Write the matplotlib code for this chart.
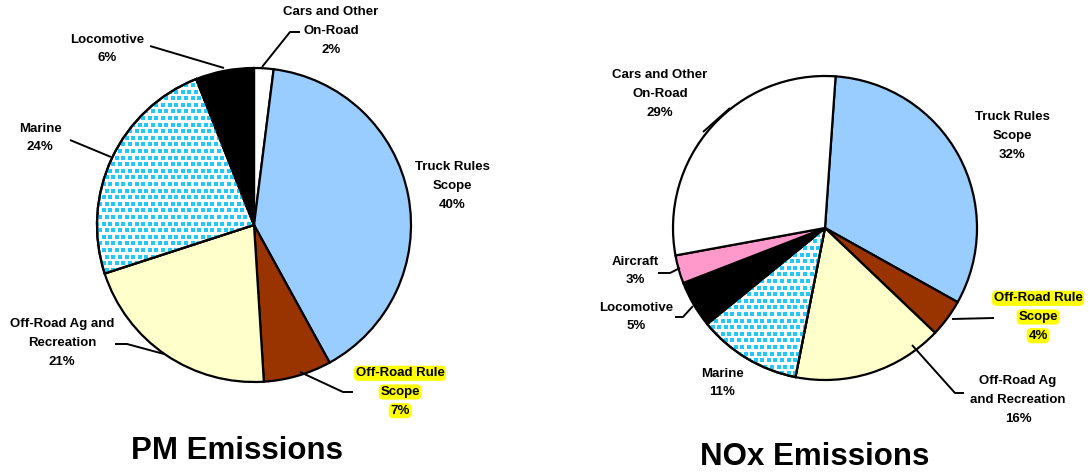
import matplotlib
matplotlib.use('Agg')
import matplotlib.pyplot as plt
import numpy as np
from matplotlib.patches import Wedge

plt.rcParams['font.family'] = ['Liberation Sans', 'DejaVu Sans']

# ---------------- data ----------------
pm_categories = ['Cars and Other On-Road', 'Truck Rules Scope', 'Off-Road Rule Scope',
                 'Off-Road Ag and Recreation', 'Marine', 'Locomotive']
pm_values = [2, 40, 7, 21, 24, 6]
pm_labels = ['Cars and Other\nOn-Road', 'Truck Rules\nScope', 'Off-Road Rule\nScope',
             'Off-Road Ag and\nRecreation', 'Marine', 'Locomotive']

nox_categories = ['Truck Rules Scope', 'Off-Road Rule Scope', 'Off-Road Ag and Recreation',
                  'Marine', 'Locomotive', 'Aircraft', 'Cars and Other On-Road']
nox_values = [32, 4, 16, 11, 5, 3, 29]
nox_labels = ['Truck Rules\nScope', 'Off-Road Rule\nScope', 'Off-Road Ag\nand Recreation',
              'Marine', 'Locomotive', 'Aircraft', 'Cars and Other\nOn-Road']

titles = ['PM Emissions', 'NOx Emissions']
highlighted = 'Off-Road Rule Scope'

# ---------------- styles ----------------
colors = {
    'Cars and Other On-Road': '#FFFFFF',
    'Truck Rules Scope': '#99CCFF',
    'Off-Road Rule Scope': '#993300',
    'Off-Road Ag and Recreation': '#FFFFCC',
    'Marine': '#FFFFFF',
    'Locomotive': '#000000',
    'Aircraft': '#FF99CC',
}
DOT_COLOR = '#22C8F8'

W, H = 1089, 475
fig = plt.figure(figsize=(W / 100, H / 100), dpi=100)
ax = fig.add_axes([0, 0, 1, 1])


def Y(y):
    return H - y


# label centre positions (image pixel coords) and leader polylines
pm_layout = {
    'Cars and Other On-Road': (331, 31, [(300, 32), (290, 32), (262, 67)]),
    'Truck Rules Scope': (452, 186, None),
    'Off-Road Rule Scope': (400, 392, [(300, 372), (343, 392), (353, 392)]),
    'Off-Road Ag and Recreation': (62, 343, [(115, 344), (127, 344), (164, 354)]),
    'Marine': (40, 138, [(70, 140), (111, 157)]),
    'Locomotive': (107, 49, [(150, 46), (224, 68)]),
}
nox_layout = {
    'Truck Rules Scope': (1012, 136, None),
    'Off-Road Rule Scope': (1038, 317, [(952, 319), (994, 318)]),
    'Off-Road Ag and Recreation': (1018, 400, [(912, 345), (955, 393), (964, 393)]),
    'Marine': (722, 383, None),
    'Locomotive': (636, 317, [(675, 317), (683, 317), (693, 306)]),
    'Aircraft': (635, 271, [(658, 273), (670, 273), (680, 268)]),
    'Cars and Other On-Road': (660, 94, [(703, 132), (730, 108)]),
}

pies = [
    (pm_categories, pm_values, pm_labels, (254, 225), 157, 90, pm_layout, titles[0], (237, 451)),
    (nox_categories, nox_values, nox_labels, (825, 228), 152, 86, nox_layout, titles[1], (815, 457)),
]

LINE_H = 18.7
FS = 9.5

for cats, vals, labs, (cx, cy), r, start, layout, title, tpos in pies:
    wedges, _ = ax.pie(vals, colors=[colors[c] for c in cats], startangle=start,
                       counterclock=False, center=(cx, Y(cy)), radius=r, frame=True,
                       wedgeprops=dict(edgecolor='black', linewidth=1.6))
    for w, c in zip(wedges, cats):
        w.set_zorder(1)
        if c == 'Marine':
            # dotted fill
            sp = 6.6
            xs, ys = [], []
            for j, yy in enumerate(np.arange(Y(cy) - r, Y(cy) + r, sp)):
                off = (j % 2) * sp / 2
                for xx in np.arange(cx - r + off, cx + r, sp):
                    xs.append(xx)
                    ys.append(yy)
            sc = ax.scatter(xs, ys, s=5.0, marker='s', color=DOT_COLOR, linewidths=0, zorder=1.5)
            sc.set_clip_path(w)
            ow = Wedge(w.center, w.r, w.theta1, w.theta2, fill=False,
                       edgecolor='black', linewidth=1.6, zorder=2)
            ax.add_patch(ow)
    # labels
    for c, v, lab in zip(cats, vals, labs):
        lx, ly, leader = layout[c]
        lines = lab.split('\n') + [f'{v}%']
        n = len(lines)
        for i, line in enumerate(lines):
            yy = ly + (i - (n - 1) / 2) * LINE_H
            kw = {}
            if c == highlighted:
                kw['bbox'] = dict(boxstyle='round,pad=0.12,rounding_size=0.35',
                                  fc='#FFFF00', ec='none')
            ax.text(lx, Y(yy), line, ha='center', va='center', fontsize=FS,
                    fontweight='bold', color='black', zorder=3, **kw)
        if leader:
            ax.plot([p[0] for p in leader], [Y(p[1]) for p in leader],
                    color='black', lw=1.4, zorder=2.5, solid_capstyle='butt')
    ax.text(tpos[0], Y(tpos[1]), title, ha='center', va='center', fontsize=22.5,
            fontweight='bold', color='black')

ax.set_xlim(0, W)
ax.set_ylim(0, H)
ax.set_aspect('equal')
ax.axis('off')
fig.savefig('out.png', dpi=100)
